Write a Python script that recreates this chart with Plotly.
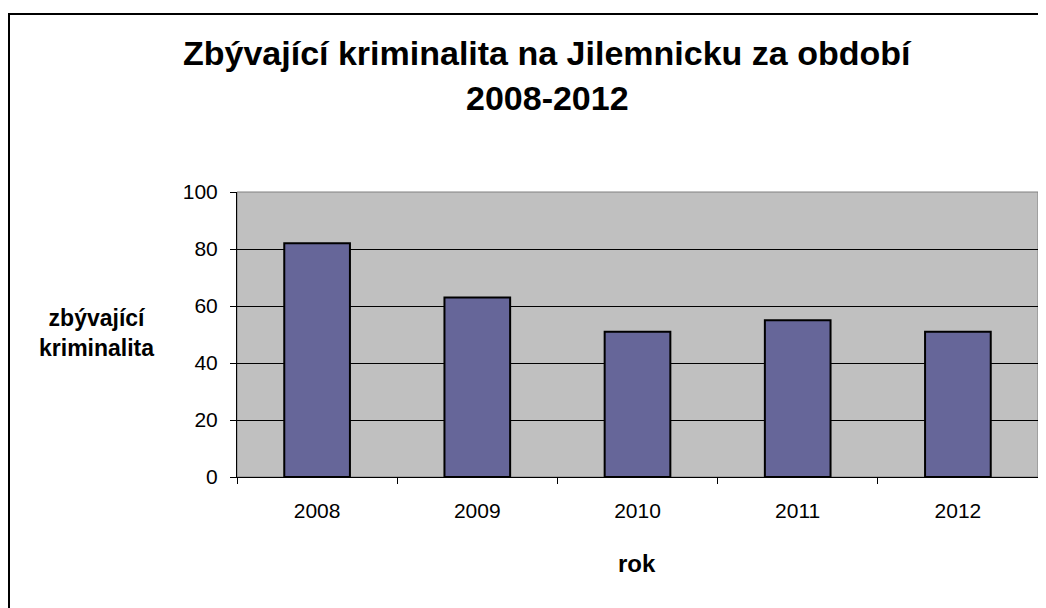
import plotly.graph_objects as go

years = ["2008", "2009", "2010", "2011", "2012"]
values = [82, 63, 51, 55, 51]
title_lines = ["Zbývající kriminalita na Jilemnicku za období", "2008-2012"]
y_title = "zbývající<br>kriminalita"
x_title = "rok"

OFF = 8  # page body margin
W, H = 1046 - OFF, 608 - OFF
# plot area in screen pixels
SL, SR, ST, SB = 237, 1038, 192, 477
L, R, T, B = SL - OFF, SR - OFF, ST - OFF, SB - OFF

def px(x):
    return (x - SL) / (SR - SL)

def py(y):
    return (SB - y) / (SB - ST)

FONT = "Liberation Sans, Arial, sans-serif"

fig = go.Figure(go.Bar(
    x=years, y=values,
    marker=dict(color="#666699", line=dict(color="black", width=2)),
))

fig.update_layout(
    width=W, height=H,
    margin=dict(l=L, r=W - R, t=T, b=H - B, pad=0),
    paper_bgcolor="white", plot_bgcolor="#C0C0C0",
    bargap=0.59, showlegend=False,
    font=dict(family=FONT, color="black"),
)
fig.update_xaxes(
    type="category", showgrid=False, showline=True, linecolor="black", linewidth=1,
    ticks="outside", tickson="boundaries", ticklen=6, tickcolor="black",
    tickfont=dict(size=21, family=FONT, color="black"), ticklabelstandoff=15,
)
fig.update_yaxes(
    range=[0, 100], dtick=20, showgrid=True, gridcolor="black", gridwidth=1,
    showline=True, linecolor="black", linewidth=1, zeroline=False,
    ticks="outside", ticklen=6, tickcolor="black",
    tickfont=dict(size=21, family=FONT, color="black"), ticklabelstandoff=8,
)

shapes = [
    dict(type="rect", xref="paper", yref="paper", x0=0, x1=1, y0=0, y1=1,
         line=dict(color="#808080", width=1), layer="below"),
    dict(type="rect", xref="paper", yref="paper", x0=px(9), x1=px(1080), y0=py(14), y1=py(660),
         line=dict(color="black", width=2)),
]
fig.update_layout(shapes=shapes)

ann = [
    dict(text="<b>%s</b>" % title_lines[0], x=px(547), y=py(53), xref="paper", yref="paper",
         showarrow=False, xanchor="center", yanchor="middle", font=dict(size=34, family=FONT)),
    dict(text="<b>%s</b>" % title_lines[1], x=px(547), y=py(98), xref="paper", yref="paper",
         showarrow=False, xanchor="center", yanchor="middle", font=dict(size=34, family=FONT)),
    dict(text="<b>%s</b>" % y_title, x=px(96), y=py(333), xref="paper", yref="paper",
         showarrow=False, xanchor="center", yanchor="middle", font=dict(size=23, family=FONT)),
    dict(text="<b>%s</b>" % x_title, x=px(637), y=py(563), xref="paper", yref="paper",
         showarrow=False, xanchor="center", yanchor="middle", font=dict(size=24, family=FONT)),
]
fig.update_layout(annotations=ann)

fig.write_html("out.html")
